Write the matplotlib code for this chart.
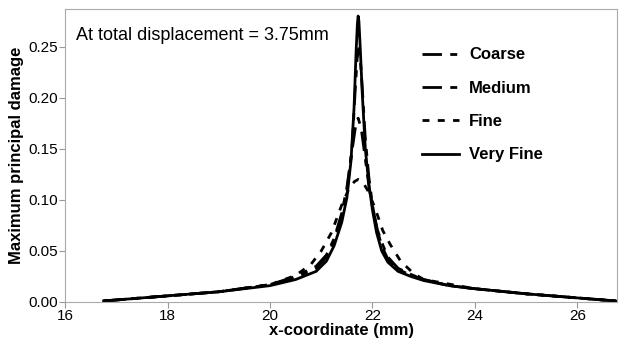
import matplotlib
matplotlib.use("Agg")
from matplotlib import pyplot as plt

plt.rcParams['font.family'] = ['Liberation Sans', 'DejaVu Sans']

# Very fine mesh
x_vfine = [16.75, 17.5, 18, 19, 20, 20.5, 20.9, 21.1, 21.25, 21.4, 21.5, 21.58, 21.64, 21.68, 21.705, 21.72,
           21.735, 21.76, 21.8, 21.86, 21.93, 22.0, 22.08, 22.18, 22.3, 22.5, 22.75, 23, 23.5, 24, 25, 26, 26.75]
y_vfine = [0.001, 0.004, 0.006, 0.010, 0.016, 0.022, 0.030, 0.040, 0.055, 0.078, 0.102, 0.138, 0.190, 0.245, 0.272, 0.280,
           0.275, 0.250, 0.205, 0.150, 0.115, 0.090, 0.068, 0.050, 0.039, 0.030, 0.025, 0.021, 0.016, 0.013, 0.008, 0.004, 0.001]

# Coarse mesh
x_coarse = [16.75, 17.5, 18, 19, 20, 20.5, 20.9, 21.1, 21.25, 21.4, 21.5, 21.6, 21.66, 21.7, 21.73,
            21.76, 21.8, 21.86, 21.93, 22.0, 22.08, 22.18, 22.3, 22.5, 22.75, 23, 23.5, 24, 25, 26, 26.75]
y_coarse = [0.001, 0.004, 0.006, 0.010, 0.017, 0.024, 0.033, 0.044, 0.060, 0.084, 0.108, 0.150, 0.205, 0.238, 0.248,
            0.240, 0.210, 0.160, 0.122, 0.095, 0.073, 0.055, 0.042, 0.032, 0.026, 0.022, 0.016, 0.013, 0.008, 0.004, 0.001]

# Medium mesh
x_medium = [16.75, 17.5, 18, 19, 20, 20.5, 20.9, 21.1, 21.25, 21.4, 21.5, 21.6, 21.67, 21.72,
            21.78, 21.86, 21.94, 22.02, 22.1, 22.2, 22.3, 22.5, 22.75, 23, 23.5, 24, 25, 26, 26.75]
y_medium = [0.001, 0.004, 0.006, 0.010, 0.017, 0.025, 0.035, 0.046, 0.062, 0.087, 0.112, 0.148, 0.172, 0.180,
            0.170, 0.140, 0.110, 0.088, 0.070, 0.056, 0.044, 0.033, 0.027, 0.022, 0.016, 0.013, 0.008, 0.004, 0.001]

# Fine mesh
x_fine = [16.75, 18, 19, 20, 20.5, 20.8, 21.0, 21.2, 21.4, 21.55, 21.65, 21.72, 21.8, 21.9,
          22.05, 22.2, 22.35, 22.55, 22.8, 23, 24, 25, 26, 26.75]
y_fine = [0.001, 0.006, 0.010, 0.017, 0.026, 0.037, 0.050, 0.068, 0.095, 0.112, 0.118, 0.120, 0.118, 0.110,
          0.092, 0.070, 0.056, 0.040, 0.028, 0.022, 0.013, 0.008, 0.004, 0.001]

fig = plt.figure(figsize=(6.21, 3.42), dpi=100)
ax = fig.add_axes([0.105, 0.117, 0.889, 0.857])

ax.plot(x_coarse, y_coarse, color="black", lw=2, dashes=(7, 3, 2.5, 3), label="Coarse")
ax.plot(x_medium, y_medium, color="black", lw=2, dashes=(7, 3, 2.5, 3), label="Medium")
ax.plot(x_fine, y_fine, color="black", lw=2, dashes=(2.5, 3), label="Fine")
ax.plot(x_vfine, y_vfine, color="black", lw=2, label="Very Fine")

ax.set_xlim(16, 26.78)
ax.set_ylim(0, 0.287)
ax.set_xticks([16, 18, 20, 22, 24, 26])
ax.set_yticks([0, 0.05, 0.10, 0.15, 0.20, 0.25])
ax.set_yticklabels(["0.00", "0.05", "0.10", "0.15", "0.20", "0.25"])
ax.tick_params(labelsize=11, color="#999999", length=4, pad=1)
for s in ax.spines.values():
    s.set_color("#aaaaaa")

ax.set_xlabel("x-coordinate (mm)", fontsize=12, fontweight="bold", labelpad=0)
ax.set_ylabel("Maximum principal damage", fontsize=12, fontweight="bold", labelpad=3)

ax.text(0.02, 0.91, "At total displacement = 3.75mm", transform=ax.transAxes,
        fontsize=13, va="center", ha="left")

leg = ax.legend(loc="upper left", bbox_to_anchor=(0.62, 0.92), frameon=False,
                prop={"size": 12, "weight": "bold"}, handlelength=2.2,
                handletextpad=0.6, labelspacing=1.1)

plt.savefig("out.png", dpi=100)
